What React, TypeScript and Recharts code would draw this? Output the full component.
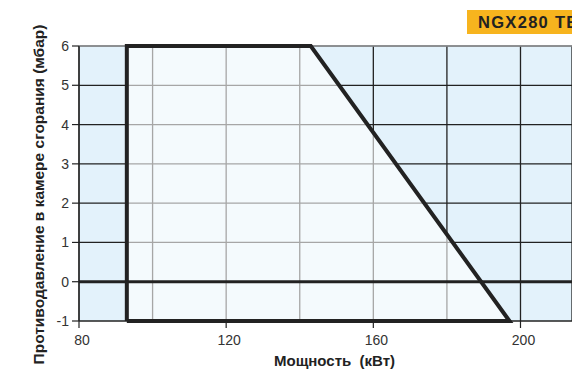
import { ComposedChart, Area, Line, XAxis, YAxis, CartesianGrid, Label } from "recharts";

// working range outline (kW, mbar)
const zoneX = [93, 93, 143, 197, 93];
const zoneY = [-1, 6, 6, -1, -1];
const fillX = [93, 143, 197];
const fillY = [6, 6, -1];

const gridX = [80, 100, 120, 140, 160, 180, 200];
const labelX = [80, 120, 160, 200];
const ticksY = [-1, 0, 1, 2, 3, 4, 5, 6];
const spanX = [80, 214];

const zone = zoneX.map((x, i) => ({ x, y: zoneY[i] }));
const fillData = fillX.map((x, i) => ({ x, y: fillY[i] }));
const zeroLine = spanX.map((x) => ({ x, y: 0 }));
const topLine = spanX.map((x) => ({ x, y: 6 }));

const XTick = (props: any) => {
  const { x, y, payload } = props;
  if (!labelX.includes(payload.value)) return <g />;
  return (
    <g>
      <line x1={x} x2={x} y1={y} y2={y + 7} stroke="#222" strokeWidth={1.2} />
      <text x={x + 3} y={y + 24} textAnchor="middle" fontSize={14} fill="#333">
        {payload.value}
      </text>
    </g>
  );
};

export default function App() {
  return (
    <div
      style={{
        position: "absolute",
        left: 0,
        top: 0,
        width: 572,
        height: 370,
        overflow: "hidden",
        background: "#fff",
        fontFamily: "'Liberation Sans', Arial, sans-serif",
      }}
    >
      <ComposedChart width={572} height={370} margin={{ top: 46, right: 0, bottom: 0, left: 0 }}>
        <CartesianGrid fill="#e3f2fb" stroke="#222" strokeWidth={1.3} />
        <XAxis
          type="number"
          dataKey="x"
          domain={[80, 214]}
          ticks={gridX}
          allowDataOverflow
          height={49}
          tickSize={0}
          tickMargin={0}
          tickLine={false}
          axisLine={false}
          tick={<XTick />}
        >
          <Label
            content={({ viewBox }: any) => (
              <text
                x={viewBox.x + viewBox.width / 2 + 9}
                y={viewBox.y + viewBox.height - 4}
                textAnchor="middle"
                fontSize={15}
                fontWeight={700}
                fill="#222"
              >
                {"Мощность\u00a0\u00a0(кВт)"}
              </text>
            )}
          />
        </XAxis>
        <YAxis
          type="number"
          dataKey="y"
          domain={[-1, 6]}
          ticks={ticksY}
          width={79}
          tickSize={7}
          tickMargin={3}
          axisLine={{ stroke: "#222", strokeWidth: 1.2 }}
          tickLine={{ stroke: "#222", strokeWidth: 1.2 }}
          tick={{ fontSize: 14, fill: "#333" }}
        >
          <Label
            content={({ viewBox }: any) => {
              const cx = viewBox.x + 38;
              const cy = viewBox.y + viewBox.height / 2 + 11;
              return (
                <text
                  x={cx}
                  y={cy}
                  transform={`rotate(-90 ${cx} ${cy})`}
                  textAnchor="middle"
                  dominantBaseline="central"
                  fontSize={15.5}
                  fontWeight={700}
                  fill="#222"
                >
                  Противодавление в камере сгорания (мбар)
                </text>
              );
            }}
          />
        </YAxis>
        <Area
          data={fillData}
          dataKey="y"
          type="linear"
          baseValue={-1}
          fill="#fff"
          fillOpacity={0.6}
          stroke="none"
          isAnimationActive={false}
        />
        <Line data={topLine} dataKey="y" stroke="#c4c8cc" strokeWidth={1.2} dot={false} isAnimationActive={false} />
        <Line data={zeroLine} dataKey="y" stroke="#222" strokeWidth={3} dot={false} isAnimationActive={false} />
        <Line
          data={zone}
          dataKey="y"
          type="linear"
          stroke="#222"
          strokeWidth={4}
          strokeLinejoin="miter"
          dot={false}
          isAnimationActive={false}
        />
      </ComposedChart>
      <div
        style={{
          position: "absolute",
          left: 467,
          top: 10,
          width: 120,
          height: 24,
          background: "#f7b41e",
          color: "#222",
          fontSize: 16.5,
          fontWeight: 700,
          letterSpacing: 1.3,
          lineHeight: "25px",
          paddingLeft: 11,
          whiteSpace: "nowrap",
        }}
      >
        NGX280 TE
      </div>
    </div>
  );
}
